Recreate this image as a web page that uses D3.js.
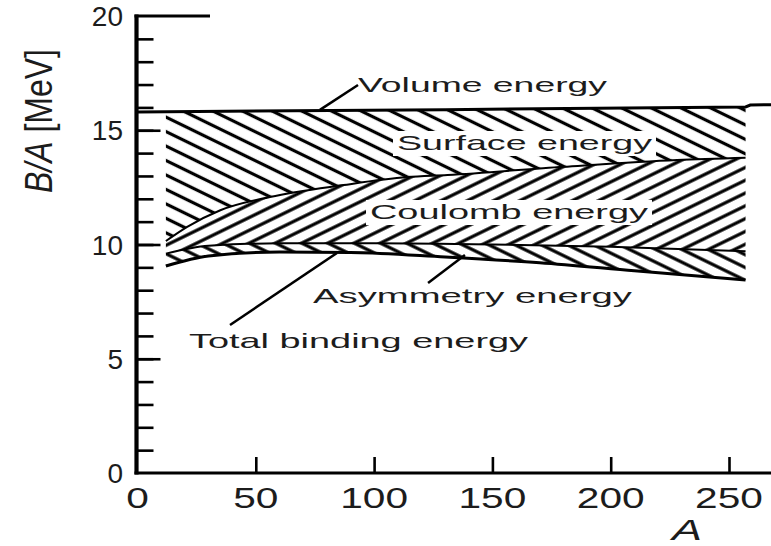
<!DOCTYPE html>
<html><head><meta charset="utf-8">
<script src="https://cdn.jsdelivr.net/npm/d3@7"></script>
<style>body{margin:0;background:#fff}svg{display:block}text{font-family:"Liberation Sans",Arial,sans-serif;fill:#1c1c1c}</style>
</head><body><svg id="c" width="771" height="546"></svg>
<script>
// ---- data (A = mass number, B/A in MeV) ----
const volumeA  = [0, 130, 257, 259, 268];
const volumeB  = [15.8, 15.9, 16.02, 16.1, 16.12];
const surfaceA = [12, 21, 35, 56, 87, 114, 131, 180, 228, 257];
const surfaceB = [10.15, 10.77, 11.5, 12.08, 12.6, 12.95, 13.04, 13.4, 13.7, 13.8];
const coulombA = [12, 30, 60, 100, 150, 200, 257];
const coulombB = [9.6, 9.95, 10.05, 10.05, 10.0, 9.9, 9.7];
const totalA   = [12, 30, 60, 90, 130, 170, 210, 257];
const totalB   = [9.06, 9.5, 9.67, 9.65, 9.45, 9.2, 8.85, 8.45];
const xTickValues = [0, 50, 100, 150, 200, 250];
const yTickLabels = [0, 5, 10, 15, 20];
const yMinorTicks = d3.range(1, 20);
const yMajorTicks = [5, 10, 15];
const labelTexts = ["Volume energy", "Surface energy", "Coulomb energy", "Asymmetry energy", "Total binding energy"];

const svg = d3.select("#c");
const x = d3.scaleLinear().domain([0, 250]).range([137.5, 729]);
const y = d3.scaleLinear().domain([0, 20]).range([473, 16]);
const zip = (a, b) => a.map((v, i) => [v, b[i]]);
const vol = zip(volumeA, volumeB), sur = zip(surfaceA, surfaceB), cou = zip(coulombA, coulombB), tot = zip(totalA, totalB);
const volAt = d3.scaleLinear().domain(volumeA).range(volumeB);

// patterns
const defs = svg.append("defs");
function hatch(id, angle, gap, w) {
  const p = defs.append("pattern").attr("id", id).attr("patternUnits", "userSpaceOnUse")
    .attr("width", 20).attr("height", gap).attr("patternTransform", `rotate(${angle})`);
  p.append("rect").attr("width", 20).attr("height", gap).attr("fill", "#fff");
  p.append("line").attr("x1", 0).attr("x2", 20).attr("y1", gap / 2).attr("y2", gap / 2)
    .attr("stroke", "#000").attr("stroke-width", w);
}
hatch("hb", 26, 13, 3.2);
hatch("hf", -26, 11.5, 3.2);
hatch("hb2", 26, 11.5, 3.2);

const line = d3.line().x(d => x(d[0])).y(d => y(d[1])).curve(d3.curveMonotoneX);
function band(top, bottom) {
  const a = line(top);
  const b = line(bottom.slice().reverse());
  return a + "L" + b.slice(1) + "Z";
}
const a0 = surfaceA[0], a1 = surfaceA[surfaceA.length - 1];
svg.append("path").attr("d", band([[a0, volAt(a0)], [a1, volAt(a1)]], sur)).attr("fill", "url(#hb)");
svg.append("path").attr("d", band(sur, cou)).attr("fill", "url(#hf)");
svg.append("path").attr("d", band(cou, tot)).attr("fill", "url(#hb2)");

// boundary curves
svg.append("path").attr("d", line(sur)).attr("fill", "none").attr("stroke", "#000").attr("stroke-width", 2);
svg.append("path").attr("d", line(cou)).attr("fill", "none").attr("stroke", "#000").attr("stroke-width", 2);
svg.append("path").attr("d", line(tot)).attr("fill", "none").attr("stroke", "#000").attr("stroke-width", 3);
svg.append("path").attr("d", d3.line().x(d => x(d[0])).y(d => y(d[1]))(vol)).attr("fill", "none").attr("stroke", "#000").attr("stroke-width", 3);

// axes
const gy = svg.append("g").attr("transform", "translate(136.5,0)").call(d3.axisRight(y).tickValues(yMinorTicks).tickSize(17).tickFormat(""));
gy.select(".domain").remove();
gy.selectAll("line").attr("stroke", "#000").attr("stroke-width", 2.6);
const gy2 = svg.append("g").attr("transform", "translate(136.5,0)").call(d3.axisRight(y).tickValues(yMajorTicks).tickSize(24).tickFormat(""));
gy2.select(".domain").remove();
gy2.selectAll("line").attr("stroke", "#000").attr("stroke-width", 2.6);
const gx = svg.append("g").attr("transform", "translate(0,473)").call(d3.axisTop(x).tickValues(xTickValues.slice(1)).tickSize(16).tickFormat(""));
gx.select(".domain").remove();
gx.selectAll("line").attr("stroke", "#000").attr("stroke-width", 2.6);
// frame lines
svg.append("line").attr("x1", 136.5).attr("x2", 136.5).attr("y1", y(20) - 1.5).attr("y2", y(0) + 1.5).attr("stroke", "#000").attr("stroke-width", 4.2);
svg.append("line").attr("x1", 134.5).attr("x2", 771).attr("y1", y(0)).attr("y2", y(0)).attr("stroke", "#000").attr("stroke-width", 3);
svg.append("line").attr("x1", 134.5).attr("x2", 210).attr("y1", y(20)).attr("y2", y(20)).attr("stroke", "#000").attr("stroke-width", 3);

// tick labels
svg.selectAll(".yl").data(yTickLabels).join("text").attr("class", "yl")
  .attr("x", 123).attr("y", d => y(d) + 10).attr("text-anchor", "end")
  .attr("font-size", 28).text(d => d);
svg.selectAll(".xl").data(xTickValues).join("text").attr("class", "xl")
  .attr("x", d => x(d)).attr("y", 508).attr("text-anchor", "middle")
  .attr("font-size", 29).text(d => d)
  .each(function () { const w = this.getComputedTextLength(); d3.select(this).attr("textLength", w * 1.4).attr("lengthAdjust", "spacingAndGlyphs"); });

// axis titles
svg.append("text").attr("x", 687).attr("y", 540).attr("text-anchor", "middle").attr("font-size", 30)
  .attr("font-style", "italic").attr("textLength", 30).attr("lengthAdjust", "spacingAndGlyphs").text("A");
const yt = svg.append("text").attr("transform", "translate(52,121) scale(1.5,1) rotate(-90)")
  .attr("text-anchor", "middle").attr("font-size", 26).attr("textLength", 144).attr("lengthAdjust", "spacingAndGlyphs");
yt.append("tspan").attr("font-style", "italic").text("B/A");
yt.append("tspan").text(" [MeV]");

// annotation labels: [left x, baseline y, width, white backing]
const labelBoxes = [[358, 92, 249, 0], [397, 150, 255, 1], [370, 219, 278, 1], [313, 303, 319, 0], [189, 348, 339, 0]];
labelTexts.forEach((t, i) => {
  const b = labelBoxes[i];
  if (b[3]) svg.append("rect").attr("x", b[0] - 4).attr("y", b[1] - 19).attr("width", b[2] + 8).attr("height", 25).attr("fill", "#fff");
  svg.append("text").attr("x", b[0]).attr("y", b[1]).attr("font-size", 21)
    .attr("textLength", b[2]).attr("lengthAdjust", "spacingAndGlyphs").text(t);
});

// pointer lines (data units)
const pointers = [[[93.2, 16.98], [77.1, 15.89]], [[122.8, 8.32], [138.4, 9.54]], [[39.1, 6.48], [84.3, 9.63]]];
pointers.forEach(p => svg.append("line")
  .attr("x1", x(p[0][0])).attr("y1", y(p[0][1])).attr("x2", x(p[1][0])).attr("y2", y(p[1][1]))
  .attr("stroke", "#000").attr("stroke-width", 2.5));
</script></body></html>
